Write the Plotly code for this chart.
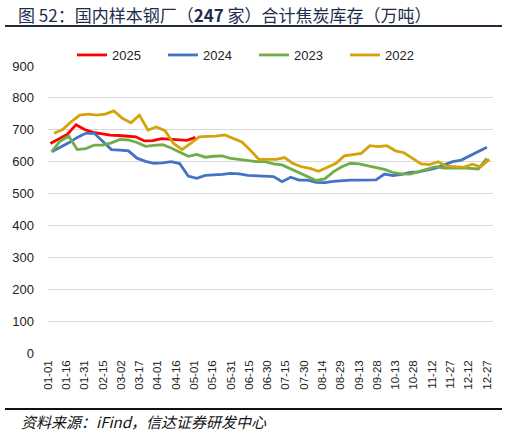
import pandas as pd
import plotly.graph_objects as go

# tick labels (every 15 days, non-leap year)
tick_labels = ["01-01", "01-16", "01-31", "02-15", "03-02", "03-17", "04-01", "04-16",
               "05-01", "05-16", "05-31", "06-15", "06-30", "07-15", "07-30", "08-14",
               "08-29", "09-13", "09-28", "10-13", "10-28", "11-12", "11-27", "12-12", "12-27"]

# weekly observations, start dates mapped onto a common (non-leap) year
start_2025 = "2023-01-03"
start_2024 = "2023-01-04"
start_2023 = "2023-01-04"
start_2022 = "2023-01-06"

v2025 = [657, 672, 686, 716, 701, 692, 687, 683, 682, 681, 678, 665, 666, 672, 670, 667,
         667, 676]

v2024 = [631, 645, 659, 676, 689, 689, 665, 638, 636, 634, 611, 601, 595, 596, 600, 594,
         555, 548, 557, 558, 560, 563, 562, 557, 555, 555, 553, 537, 551, 542, 542, 535,
         534, 538, 541, 542, 542, 542, 543, 561, 556, 560, 566, 568, 574, 580, 590, 600,
         605, 618, 630, 645]

v2023 = [631, 665, 680, 638, 641, 652, 652, 659, 670, 668, 660, 648, 651, 653, 643, 630,
         617, 623, 614, 617, 618, 610, 606, 602, 600, 600, 593, 590, 578, 565, 553, 541,
         546, 568, 584, 595, 593, 588, 583, 576, 566, 562, 561, 568, 577, 584, 580, 581,
         581, 579, 577, 610]

v2022 = [689, 701, 725, 746, 749, 746, 749, 759, 736, 722, 746, 699, 709, 697, 657, 638,
         657, 678, 679, 680, 684, 673, 662, 636, 607, 607, 607, 613, 594, 584, 579, 570,
         581, 594, 618, 623, 626, 650, 647, 650, 634, 628, 610, 593, 591, 600, 586, 584,
         582, 592, 584, 607]

series = [
    ("2025", start_2025, v2025, "#FF0000"),
    ("2024", start_2024, v2024, "#4472C4"),
    ("2023", start_2023, v2023, "#70AD47"),
    ("2022", start_2022, v2022, "#D4A20A"),
]

fig = go.Figure()
for name, start, vals, color in series:
    x = pd.date_range(start, periods=len(vals), freq="7D")
    fig.add_trace(go.Scatter(x=x, y=vals, mode="lines", name=name,
                             line=dict(color=color, width=2.8)))

tick_vals = pd.date_range("2023-01-01", periods=len(tick_labels), freq="15D")

# pixel geometry helpers
L, R, T, B = 48, 493, 66, 353
W, H = 507, 435
def px(xp):
    return (xp - L) / (R - L)
def py(yp):
    return (B - yp) / (B - T)

fig.update_layout(
    width=W, height=H,
    margin=dict(l=L, r=W - R, t=T, b=H - B),
    paper_bgcolor="white", plot_bgcolor="white",
    font=dict(family="Liberation Sans, Arial, sans-serif", size=12, color="#222222"),
    showlegend=True,
    legend=dict(orientation="h", x=px(72), xanchor="left", y=py(55), yanchor="middle",
                font=dict(size=13, color="#222222"), itemwidth=30,
                entrywidth=46, entrywidthmode="pixels",
                traceorder="normal", bgcolor="rgba(0,0,0,0)"),
    xaxis=dict(type="date", range=["2023-01-01", "2024-01-01"],
               tickvals=list(tick_vals), ticktext=tick_labels, tickangle=-90,
               showgrid=False, showline=False, zeroline=False, ticks="",
               ticklabelstandoff=4,
               tickfont=dict(size=11.5, color="#222222")),
    yaxis=dict(range=[0, 900], dtick=100, showgrid=True, gridcolor="#D9D9D9",
               gridwidth=1, zeroline=False, showline=False, ticks="",
               ticklabelstandoff=13,
               tickfont=dict(size=13, color="#222222")),
    shapes=[
        dict(type="line", xref="paper", yref="paper", x0=px(5), x1=px(502),
             y0=py(26), y1=py(26), line=dict(color="#1F2D3D", width=2)),
        dict(type="line", xref="paper", yref="paper", x0=px(5), x1=px(502),
             y0=py(409), y1=py(409), line=dict(color="#111111", width=2)),
    ],
    annotations=[
        dict(text="图 52：国内样本钢厂（<b>247</b> 家）合计焦炭库存（万吨）",
             xref="paper", yref="paper", x=px(16), y=py(15), xanchor="left",
             yanchor="middle", showarrow=False,
             font=dict(family="Noto Sans CJK SC", size=17, color="#1F2D4D")),
        dict(text="<i>资料来源：iFind，信达证券研发中心</i>",
             xref="paper", yref="paper", x=px(19), y=py(421), xanchor="left",
             yanchor="middle", showarrow=False,
             font=dict(family="Noto Sans CJK SC", size=15, color="#111111")),
    ],
)

fig.write_html("out.html", config={"displayModeBar": False},
               post_script="document.body.style.margin='0';")
